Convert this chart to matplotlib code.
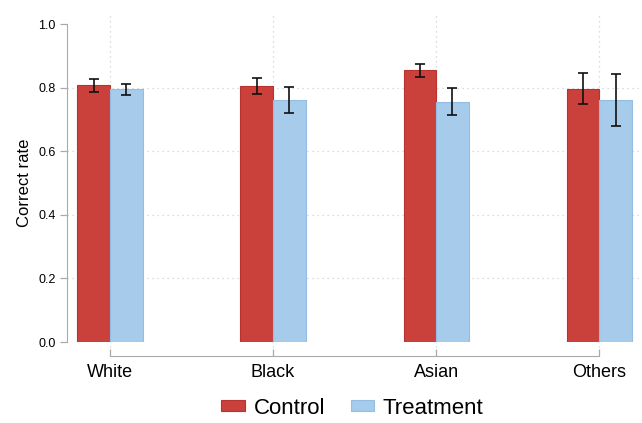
import numpy as np
import matplotlib.pyplot as plt

plt.rcParams['font.family'] = ['Liberation Sans', 'DejaVu Sans']

groups = ["White", "Black", "Asian", "Others"]
control = [0.808, 0.805, 0.855, 0.796]
control_lo = [0.786, 0.780, 0.834, 0.748]
control_hi = [0.827, 0.830, 0.874, 0.846]
treatment = [0.796, 0.761, 0.755, 0.761]
treatment_lo = [0.777, 0.720, 0.714, 0.679]
treatment_hi = [0.811, 0.802, 0.799, 0.843]

red = "#C9413A"
blue = "#A6CBEB"

fig = plt.figure(figsize=(6.42, 4.23), dpi=100)
ax = fig.add_axes([67 / 642, (423 - 342) / 423, (640 - 67) / 642, 318 / 423])

x = np.arange(len(groups))
w = 0.2
c = np.array(control)
t = np.array(treatment)
c_err = [c - np.array(control_lo), np.array(control_hi) - c]
t_err = [t - np.array(treatment_lo), np.array(treatment_hi) - t]

ax.bar(x - w / 2, c, w, color=red, edgecolor="#B8332C", linewidth=0.8,
       label="Control", zorder=2)
ax.bar(x + w / 2, t, w, color=blue, edgecolor="#93BDE3", linewidth=0.8,
       label="Treatment", zorder=2)
ax.errorbar(x - w / 2, c, yerr=c_err, fmt="none", ecolor="#111111",
            elinewidth=1.2, capsize=3.5, capthick=1.2, zorder=3)
ax.errorbar(x + w / 2, t, yerr=t_err, fmt="none", ecolor="#111111",
            elinewidth=1.2, capsize=3.5, capthick=1.2, zorder=3)

ax.set_xlim(-0.264, 3.25)
ax.set_ylim(0, 1)

# dotted grid
for yy in [0.2, 0.4, 0.6, 0.8]:
    ax.axhline(yy, color="#d0d0d0", linestyle=(0, (1, 3)), linewidth=0.9, zorder=0)
for xx in x:
    ax.axvline(xx, ymin=-0.03, ymax=1.03, color="#d0d0d0", linestyle=(0, (1, 3)),
               linewidth=0.9, zorder=0, clip_on=False)

ax.set_yticks([0, 0.2, 0.4, 0.6, 0.8, 1.0])
ax.set_yticklabels(["0.0", "0.2", "0.4", "0.6", "0.8", "1.0"])
ax.set_xticks(x)
ax.set_xticklabels(groups)
ax.tick_params(axis="y", length=5, color="#aaaaaa", width=0.9, pad=3, labelsize=9)
ax.tick_params(axis="x", direction="in", length=5, color="#aaaaaa", width=0.9,
               pad=6, labelsize=13)

for s in ["top", "right"]:
    ax.spines[s].set_visible(False)
ax.spines["left"].set_color("#aaaaaa")
ax.spines["left"].set_bounds(0, 1)
ax.spines["bottom"].set_color("#aaaaaa")
ax.spines["bottom"].set_position(("outward", 10))
ax.spines["bottom"].set_bounds(0, 3)

ax.set_ylabel("Correct rate", fontsize=12, labelpad=5)

fig.legend(loc="center", bbox_to_anchor=(0.549, 1 - 408 / 423), ncol=2,
           frameon=False, fontsize=16, handlelength=1.05, handleheight=0.4,
           columnspacing=1.15, handletextpad=0.4)

fig.savefig("out.png", dpi=100)
